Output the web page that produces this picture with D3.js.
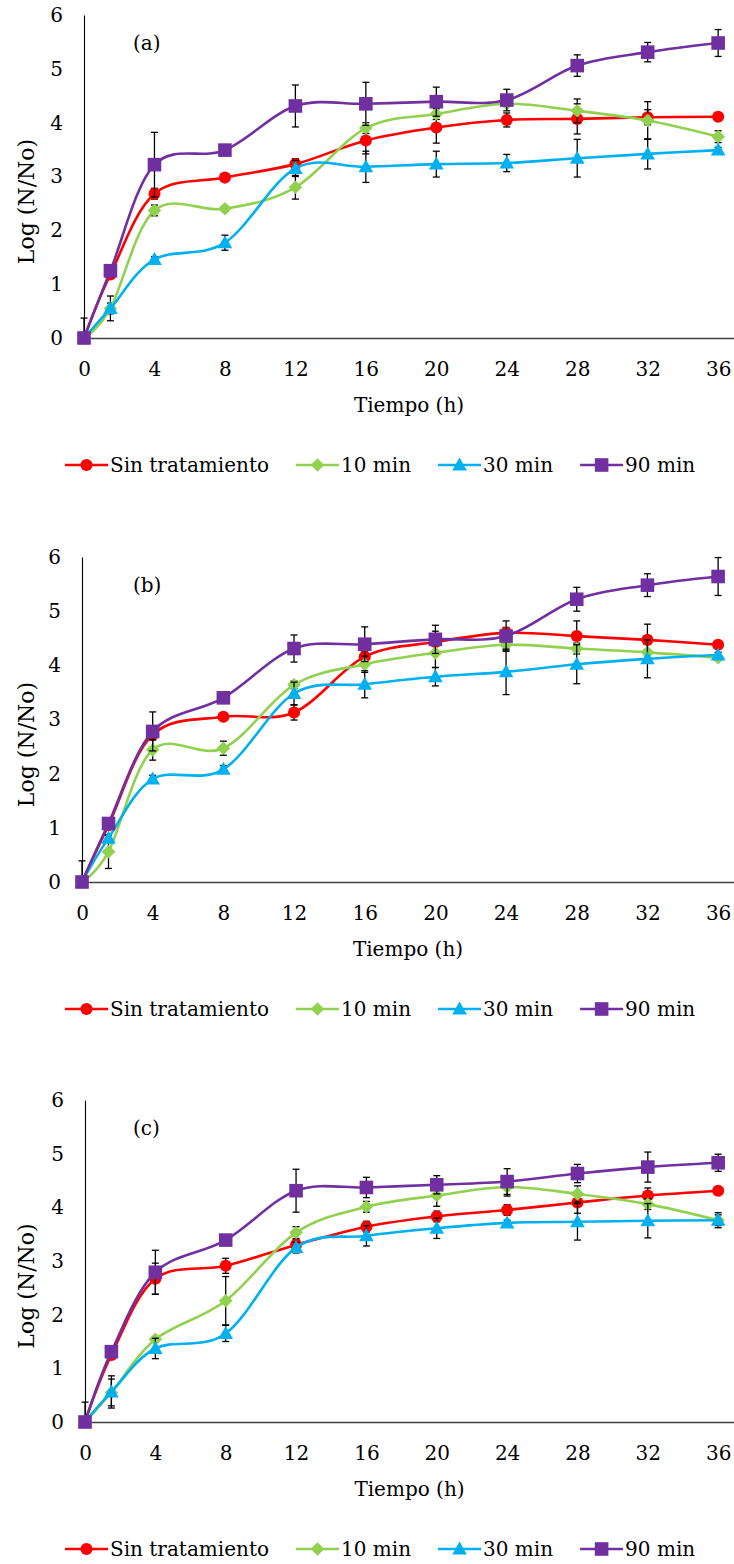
<!DOCTYPE html>
<html>
<head>
<meta charset="utf-8">
<script src="https://cdnjs.cloudflare.com/ajax/libs/d3/7.8.5/d3.min.js"></script>
<style>
  body { margin: 0; background: #fff; }
  svg text { font-family: "DejaVu Serif", "Liberation Serif", serif; fill: #000; }
</style>
</head>
<body>
<div id="chart"></div>
<script>
// sampling times (h)
var times = [0, 1.5, 4, 8, 12, 16, 20, 24, 28, 32, 36];
var xTicks = [0, 4, 8, 12, 16, 20, 24, 28, 32, 36];
var yTicks = [0, 1, 2, 3, 4, 5, 6];
var seriesNames = ["Sin tratamiento", "10 min", "30 min", "90 min"];

// panel (a)
var aSin = [0, 1.18, 2.68, 2.98, 3.23, 3.67, 3.91, 4.05, 4.07, 4.10, 4.11];
var aSinErr = [0.37, 0.05, 0.1, 0.05, 0.1, 0.25, 0.29, 0.13, 0.28, 0.14, 0.05];
var a10 = [0, 0.55, 2.37, 2.40, 2.80, 3.90, 4.16, 4.35, 4.22, 4.04, 3.74];
var a10Err = [0, 0.1, 0.1, 0.05, 0.22, 0.1, 0.1, 0.05, 0.22, 0.35, 0.11];
var a30 = [0, 0.55, 1.46, 1.77, 3.15, 3.18, 3.23, 3.25, 3.34, 3.42, 3.49];
var a30Err = [0, 0.23, 0.05, 0.14, 0.15, 0.29, 0.24, 0.16, 0.35, 0.28, 0.05];
var a90 = [0, 1.25, 3.22, 3.49, 4.31, 4.35, 4.39, 4.42, 5.06, 5.31, 5.48];
var a90Err = [0, 0.05, 0.6, 0.05, 0.39, 0.4, 0.27, 0.2, 0.2, 0.18, 0.25];

// panel (b)
var bSin = [0, 1.05, 2.72, 3.05, 3.13, 4.16, 4.43, 4.60, 4.54, 4.47, 4.38];
var bSinErr = [0.39, 0.05, 0.1, 0.05, 0.14, 0.1, 0.2, 0.1, 0.28, 0.29, 0.05];
var b10 = [0, 0.56, 2.44, 2.47, 3.64, 4.02, 4.23, 4.38, 4.31, 4.24, 4.14];
var b10Err = [0, 0.31, 0.19, 0.13, 0.07, 0.15, 0.27, 0.1, 0.1, 0.05, 0.05];
var b30 = [0, 0.81, 1.90, 2.08, 3.48, 3.65, 3.79, 3.88, 4.02, 4.12, 4.19];
var b30Err = [0, 0.05, 0.07, 0.07, 0.21, 0.25, 0.17, 0.42, 0.36, 0.35, 0.05];
var b90 = [0, 1.08, 2.78, 3.40, 4.31, 4.39, 4.48, 4.54, 5.22, 5.48, 5.64];
var b90Err = [0, 0.05, 0.36, 0.05, 0.25, 0.32, 0.26, 0.28, 0.22, 0.21, 0.35];

// panel (c)
var cSin = [0, 1.25, 2.67, 2.91, 3.30, 3.64, 3.83, 3.95, 4.09, 4.22, 4.31];
var cSinErr = [0.37, 0.05, 0.29, 0.14, 0.1, 0.1, 0.1, 0.1, 0.2, 0.14, 0.05];
var c10 = [0, 0.55, 1.54, 2.26, 3.53, 4.01, 4.22, 4.38, 4.25, 4.06, 3.76];
var c10Err = [0, 0.25, 0.05, 0.45, 0.11, 0.1, 0.2, 0.17, 0.15, 0.1, 0.14];
var c30 = [0, 0.56, 1.37, 1.65, 3.25, 3.47, 3.61, 3.71, 3.73, 3.75, 3.76];
var c30Err = [0, 0.3, 0.19, 0.15, 0.1, 0.19, 0.19, 0.05, 0.34, 0.32, 0.1];
var c90 = [0, 1.31, 2.79, 3.39, 4.31, 4.37, 4.42, 4.48, 4.63, 4.75, 4.83];
var c90Err = [0, 0.05, 0.41, 0.05, 0.4, 0.19, 0.17, 0.24, 0.17, 0.28, 0.16];

var colors = ["#ff0000", "#92d050", "#00b0f0", "#7030a0"];
var shapes = ["circle", "diamond", "triangle", "square"];

var panels = [
  {tag: "(a)", top: 15, bottom: 338, left: 84,
   values: [aSin, a10, a30, a90], errors: [aSinErr, a10Err, a30Err, a90Err]},
  {tag: "(b)", top: 557, bottom: 882, left: 82,
   values: [bSin, b10, b30, b90], errors: [bSinErr, b10Err, b30Err, b90Err]},
  {tag: "(c)", top: 1100, bottom: 1422, left: 85,
   values: [cSin, c10, c30, c90], errors: [cSinErr, c10Err, c30Err, c90Err]}
];

var width = 734, height = 1564, font_size = 20;

var svg = d3.select("#chart").append("svg")
    .attr("width", width)
    .attr("height", height);

function marker_path(shape) {
  if (shape == "circle") return d3.symbol(d3.symbolCircle, 115)();
  if (shape == "square") return d3.symbol(d3.symbolSquare, 185)();
  if (shape == "triangle") return "M0,-7.5L7.3,5.5L-7.3,5.5Z";
  // Excel style diamond: a square turned by 45deg
  return "M0,-6.8L6.8,0L0,6.8L-6.8,0Z";
}

function draw_panel(p) {
  var g = svg.append("g");

  // axis runs a bit past the last tick, to the image edge
  var x = d3.scaleLinear().domain([0, 36.9]).range([p.left, width]);
  var y = d3.scaleLinear().domain([0, 6]).range([p.bottom, p.top]);

  var x_axis = g.append("g")
      .attr("transform", "translate(0," + p.bottom + ")")
      .call(d3.axisBottom(x).tickValues(xTicks).tickSize(0).tickPadding(24).tickSizeOuter(0));
  x_axis.select(".domain").attr("stroke", "#404040").attr("stroke-width", 1.6);

  var y_axis = g.append("g")
      .attr("transform", "translate(" + p.left + ",0)")
      .call(d3.axisLeft(y).tickValues(yTicks).tickFormat(d3.format("d"))
          .tickSize(0).tickPadding(21).tickSizeOuter(0));
  y_axis.select(".domain").attr("stroke", "#000").attr("stroke-width", 1.1);

  g.selectAll(".tick text")
      .style("font-size", font_size + "px")
      .style("font-family", "DejaVu Serif");

  g.append("text")
      .attr("x", (p.left + width) / 2)
      .attr("y", p.bottom + 74)
      .attr("text-anchor", "middle")
      .style("font-size", font_size + "px")
      .text("Tiempo (h)");

  g.append("text")
      .attr("transform", "translate(34," + ((p.top + p.bottom) / 2 + 25) + ") rotate(-90)")
      .attr("text-anchor", "middle")
      .style("font-size", "22px")
      .text("Log (N/No)");

  g.append("text")
      .attr("x", 133)
      .attr("y", p.top + 35)
      .style("font-size", font_size + "px")
      .text(p.tag);

  var line = d3.line()
      .x(function (d) { return x(d[0]); })
      .y(function (d) { return y(d[1]); })
      .curve(d3.curveCardinal.tension(0));

  p.values.forEach(function (vals, s) {
    var pts = times.map(function (t, i) { return [t, vals[i], p.errors[s][i]]; });
    var sg = g.append("g");

    // error bars, with caps (under the series' own markers)
    var eb = sg.selectAll(".eb").data(pts.filter(function (d) { return d[2] > 0; }))
        .enter().append("g")
        .attr("stroke", "#000")
        .attr("stroke-width", 1.3);
    eb.append("line")
        .attr("x1", function (d) { return x(d[0]); })
        .attr("x2", function (d) { return x(d[0]); })
        .attr("y1", function (d) { return y(d[1] + d[2]); })
        .attr("y2", function (d) { return y(Math.max(0, d[1] - d[2])); });
    eb.append("line")
        .attr("x1", function (d) { return x(d[0]) - 3.5; })
        .attr("x2", function (d) { return x(d[0]) + 3.5; })
        .attr("y1", function (d) { return y(d[1] + d[2]); })
        .attr("y2", function (d) { return y(d[1] + d[2]); });
    eb.filter(function (d) { return d[1] - d[2] >= 0; }).append("line")
        .attr("x1", function (d) { return x(d[0]) - 3.5; })
        .attr("x2", function (d) { return x(d[0]) + 3.5; })
        .attr("y1", function (d) { return y(d[1] - d[2]); })
        .attr("y2", function (d) { return y(d[1] - d[2]); });

    sg.append("path")
        .datum(pts)
        .attr("fill", "none")
        .attr("stroke", colors[s])
        .attr("stroke-width", 2.6)
        .attr("d", line);

    sg.selectAll(".mk").data(pts).enter().append("path")
        .attr("transform", function (d) { return "translate(" + x(d[0]) + "," + y(d[1]) + ")"; })
        .attr("d", marker_path(shapes[s]))
        .attr("fill", colors[s]);
  });

  // legend
  var ly = p.bottom + 127;
  var lx = 65;
  seriesNames.forEach(function (name, s) {
    var lg = g.append("g");
    lg.append("line")
        .attr("x1", lx).attr("x2", lx + 43)
        .attr("y1", ly).attr("y2", ly)
        .attr("stroke", colors[s]).attr("stroke-width", 2.6);
    lg.append("path")
        .attr("transform", "translate(" + (lx + 21.5) + "," + ly + ")")
        .attr("d", marker_path(shapes[s]))
        .attr("fill", colors[s]);
    var t = lg.append("text")
        .attr("x", lx + 45)
        .attr("y", ly + 7)
        .style("font-size", font_size + "px")
        .text(name);
    lx += 45 + t.node().getComputedTextLength() + 27;
  });
}

panels.forEach(draw_panel);
</script>
</body>
</html>
